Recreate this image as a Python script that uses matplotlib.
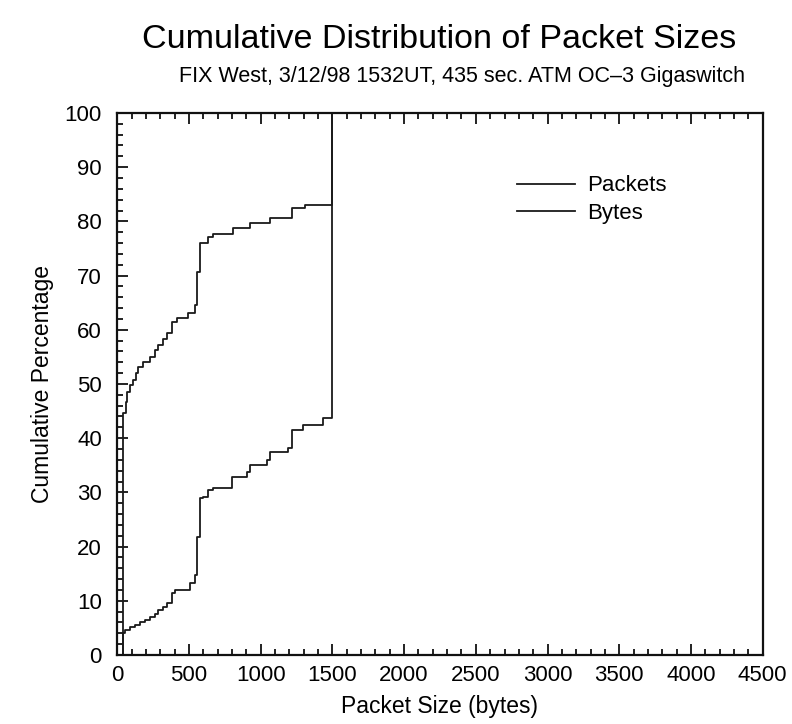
import numpy as np
import matplotlib
matplotlib.use("Agg")
import matplotlib.pyplot as plt
from matplotlib.ticker import MultipleLocator

plt.rcParams["font.family"] = ["Liberation Sans", "DejaVu Sans"]

# cumulative packet-count percentage by packet size (bytes)
pkt_size = [0, 40, 63, 70, 90, 112, 130, 146, 180, 230, 260, 286, 320, 348,
            383, 418, 495, 543, 557, 578, 634, 670, 808, 927, 1066, 1219, 1310,
            1498, 1500, 4150]
pkt_pct = [0, 44.6, 46.7, 48.5, 49.8, 50.7, 52.0, 53.1, 54.0, 55.0, 56.2, 57.2,
           58.3, 59.4, 61.4, 62.2, 63.1, 64.6, 70.7, 76.0, 77.1, 77.7, 78.8,
           79.7, 80.6, 82.5, 83.0, 83.6, 100, 100]

# cumulative byte-volume percentage by packet size (bytes)
byte_size = [0, 40, 56, 90, 125, 160, 195, 230, 260, 286, 320, 348, 383, 404,
             509, 543, 557, 578, 600, 634, 669, 801, 905, 927, 1045, 1066, 1191,
             1219, 1296, 1435, 1498, 1500, 4150]
byte_pct = [0, 4.1, 4.6, 5.2, 5.6, 6.1, 6.5, 7.0, 7.6, 8.3, 8.9, 9.6, 11.4,
            12.0, 13.3, 14.8, 21.8, 29.0, 29.2, 30.4, 30.8, 32.8, 33.8, 35.1,
            36.0, 37.5, 38.2, 41.5, 42.4, 43.7, 44.8, 100, 100]

fig = plt.figure(figsize=(7.92, 7.24), dpi=100)
ax = fig.add_axes([0.148, 0.0953, 0.815, 0.7487])

ax.plot(pkt_size, pkt_pct, drawstyle="steps-post", color="#1a1a1a", lw=1.3, label="Packets")
ax.plot(byte_size, byte_pct, drawstyle="steps-post", color="#1a1a1a", lw=1.3, label="Bytes")

ax.set_xlim(0, 4500)
ax.set_ylim(0, 100)
ax.xaxis.set_major_locator(MultipleLocator(500))
ax.xaxis.set_minor_locator(MultipleLocator(100))
ax.yaxis.set_major_locator(MultipleLocator(10))
ax.yaxis.set_minor_locator(MultipleLocator(2))
ax.tick_params(which="both", direction="in", top=True, right=False, width=1.3,
               labelsize=16, color="#111111")
ax.tick_params(axis="x", which="major", length=8, pad=7)
ax.tick_params(axis="y", which="major", length=8, pad=11)
ax.tick_params(which="minor", length=4.5)
for s in ax.spines.values():
    s.set_linewidth(1.6)
    s.set_color("#111111")

ax.set_xlabel("Packet Size (bytes)", fontsize=16.5, labelpad=7)
ax.set_ylabel("Cumulative Percentage", fontsize=16.5, labelpad=8)

ax.legend(loc="upper left", bbox_to_anchor=(0.62, 0.885), frameon=False,
          fontsize=16, handlelength=2.6, handletextpad=0.55, labelspacing=0.3,
          borderpad=0, borderaxespad=0)

fig.text(0.555, 0.946, "Cumulative Distribution of Packet Sizes", ha="center",
         va="center", fontsize=24.5)
fig.text(0.583, 0.895, "FIX West, 3/12/98 1532UT, 435 sec. ATM OC–3 Gigaswitch",
         ha="center", va="center", fontsize=15.5)

fig.savefig("out.png", dpi=100)
